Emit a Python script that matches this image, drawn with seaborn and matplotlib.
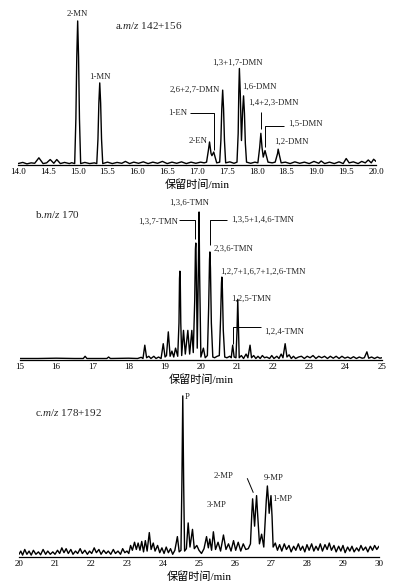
import numpy as np
import pandas as pd
import matplotlib
matplotlib.use("Agg")
import matplotlib.pyplot as plt
from matplotlib.ticker import MultipleLocator, FormatStrFormatter
import seaborn as sns

# %% data (retention time in min, relative signal)
a_time = [14.00, 14.08, 14.15, 14.22, 14.28, 14.35, 14.42, 14.48, 14.54, 14.60,
          14.65, 14.71, 14.78, 14.86, 14.90, 14.95, 14.97, 14.985, 15.00, 15.015,
          15.03, 15.05, 15.12, 15.20, 15.28, 15.32, 15.34, 15.355, 15.37, 15.385,
          15.40, 15.42, 15.50, 15.58, 15.66, 15.74, 15.80, 15.87, 15.94, 16.02,
          16.10, 16.18, 16.26, 16.34, 16.42, 16.50, 16.58, 16.66, 16.74, 16.82,
          16.90, 16.98, 17.06, 17.12, 17.16, 17.19, 17.21, 17.235, 17.25, 17.28,
          17.33, 17.38, 17.40, 17.415, 17.43, 17.445, 17.46, 17.48, 17.55, 17.62,
          17.67, 17.69, 17.70, 17.71, 17.725, 17.745, 17.765, 17.78, 17.795, 17.81,
          17.83, 17.90, 17.97, 18.02, 18.05, 18.07, 18.09, 18.11, 18.14, 18.19,
          18.26, 18.31, 18.35, 18.36, 18.38, 18.41, 18.48, 18.56, 18.64, 18.72,
          18.80, 18.88, 18.96, 19.04, 19.08, 19.14, 19.22, 19.30, 19.38, 19.45,
          19.50, 19.55, 19.62, 19.70, 19.76, 19.82, 19.87, 19.92, 19.96, 20.00]
a_signal = [1.0, 1.8, 0.8, 1.5, 1.2, 5.0, 1.0, 1.5, 3.8, 1.2,
            3.8, 1.0, 1.8, 1.0, 1.6, 1.0, 32, 75, 100, 75,
            32, 1.0, 1.8, 1.0, 1.5, 1.0, 18, 43, 57, 43,
            18, 1.0, 2.0, 1.0, 1.8, 1.2, 2.5, 1.0, 2.0, 1.2,
            2.2, 1.0, 2.0, 1.2, 2.5, 1.0, 2.0, 1.2, 2.2, 1.0,
            2.0, 1.2, 2.0, 1.5, 2.0, 10, 16, 8.0, 6.5, 9.0,
            1.5, 2.0, 17, 39, 52, 39, 17, 1.5, 2.2, 1.2,
            2.0, 22, 50, 67, 50, 17, 38, 48, 36, 15,
            2.0, 1.2, 2.0, 1.5, 12, 22, 12, 5.5, 10, 2.0,
            1.5, 2.0, 8.0, 11, 7.0, 1.5, 2.0, 1.0, 2.2, 1.2,
            2.0, 1.0, 2.5, 1.2, 2.8, 1.0, 2.0, 1.0, 2.2, 1.0,
            4.5, 1.5, 2.2, 1.0, 2.5, 1.5, 3.5, 1.5, 4.0, 2.5]

b_time = [15.00, 15.50, 16.00, 16.50, 16.75, 16.80, 16.85, 17.40, 17.45, 17.50,
          18.00, 18.25, 18.35, 18.40, 18.45, 18.50, 18.56, 18.62, 18.70, 18.76,
          18.83, 18.90, 18.96, 19.01, 19.05, 19.10, 19.15, 19.20, 19.25, 19.30,
          19.36, 19.395, 19.41, 19.42, 19.43, 19.445, 19.47, 19.52, 19.57, 19.64,
          19.69, 19.75, 19.79, 19.83, 19.85, 19.86, 19.875, 19.90, 19.93, 19.95,
          19.965, 20.00, 20.07, 20.12, 20.18, 20.215, 20.24, 20.25, 20.265, 20.29,
          20.33, 20.38, 20.45, 20.51, 20.545, 20.57, 20.58, 20.595, 20.62, 20.66,
          20.72, 20.80, 20.84, 20.88, 20.92, 20.97, 21.00, 21.02, 21.04, 21.06,
          21.12, 21.18, 21.25, 21.30, 21.36, 21.40, 21.46, 21.52, 21.58, 21.64,
          21.70, 21.76, 21.82, 21.90, 21.96, 22.02, 22.10, 22.16, 22.22, 22.27,
          22.33, 22.38, 22.44, 22.50, 22.56, 22.62, 22.70, 22.78, 22.86, 22.94,
          23.02, 23.10, 23.18, 23.26, 23.34, 23.42, 23.50, 23.58, 23.66, 23.74,
          23.82, 23.90, 23.98, 24.06, 24.14, 24.22, 24.30, 24.38, 24.46, 24.52,
          24.59, 24.64, 24.72, 24.80, 24.88, 24.95, 25.00]
b_signal = [1.0, 1.0, 1.2, 1.0, 1.0, 2.5, 1.0, 1.0, 2.0, 1.0,
            1.2, 1.0, 1.8, 1.0, 10, 1.5, 2.5, 1.0, 2.5, 1.0,
            2.0, 1.0, 11, 2.0, 3.0, 19, 2.5, 6.0, 2.0, 8.0,
            2.5, 25, 55, 60, 55, 25, 3.0, 20, 4.0, 20,
            4.0, 20, 5.0, 40, 75, 79, 60, 8.0, 60, 100,
            60, 2.0, 8.0, 1.5, 3.0, 35, 68, 73, 62, 25,
            2.0, 1.5, 2.5, 3.0, 28, 52, 56, 48, 20, 2.0,
            1.5, 2.5, 1.5, 10, 2.0, 1.5, 20, 41, 20, 1.5,
            3.0, 1.0, 4.0, 1.5, 10, 1.5, 3.0, 1.0, 2.5, 1.0,
            3.0, 1.5, 2.0, 1.0, 3.0, 1.0, 2.5, 1.0, 4.0, 1.5,
            11, 2.0, 3.5, 1.0, 2.5, 1.0, 2.0, 2.5, 1.0, 2.5,
            1.5, 3.0, 1.0, 2.5, 1.5, 2.5, 1.0, 2.5, 1.2, 2.5,
            1.0, 2.5, 1.2, 2.0, 1.0, 2.2, 1.0, 2.0, 1.2, 1.5,
            5.5, 1.2, 2.0, 1.0, 2.0, 1.2, 1.5]

c_time = [20.00, 20.05, 20.10, 20.16, 20.22, 20.28, 20.34, 20.40, 20.47, 20.54,
          20.60, 20.67, 20.74, 20.80, 20.87, 20.94, 21.00, 21.07, 21.13, 21.19,
          21.25, 21.31, 21.37, 21.44, 21.50, 21.57, 21.63, 21.70, 21.76, 21.83,
          21.90, 21.96, 22.02, 22.09, 22.15, 22.22, 22.28, 22.35, 22.42, 22.48,
          22.55, 22.62, 22.68, 22.75, 22.82, 22.88, 22.94, 23.00, 23.05, 23.10,
          23.15, 23.21, 23.26, 23.31, 23.36, 23.41, 23.46, 23.51, 23.56, 23.62,
          23.67, 23.73, 23.78, 23.85, 23.91, 23.97, 24.03, 24.09, 24.15, 24.21,
          24.27, 24.33, 24.40, 24.45, 24.50, 24.525, 24.55, 24.575, 24.60, 24.65,
          24.70, 24.75, 24.82, 24.87, 24.94, 25.00, 25.07, 25.14, 25.21, 25.26,
          25.30, 25.35, 25.40, 25.46, 25.53, 25.60, 25.68, 25.75, 25.82, 25.89,
          25.96, 26.02, 26.09, 26.16, 26.23, 26.30, 26.37, 26.43, 26.47, 26.49,
          26.51, 26.545, 26.575, 26.60, 26.625, 26.68, 26.74, 26.80, 26.87, 26.90,
          26.93, 26.95, 26.98, 27.00, 27.03, 27.06, 27.12, 27.18, 27.24, 27.30,
          27.37, 27.43, 27.50, 27.56, 27.63, 27.69, 27.76, 27.82, 27.88, 27.94,
          28.00, 28.06, 28.13, 28.19, 28.25, 28.31, 28.37, 28.43, 28.50, 28.56,
          28.62, 28.68, 28.75, 28.81, 28.88, 28.94, 29.00, 29.06, 29.13, 29.19,
          29.25, 29.31, 29.38, 29.44, 29.50, 29.56, 29.63, 29.69, 29.76, 29.82,
          29.88, 29.94, 30.00]
c_signal = [1.5, 3.5, 1.0, 4.5, 1.5, 3.5, 1.0, 4.0, 1.5, 3.0,
            1.2, 4.5, 1.5, 3.5, 1.5, 3.0, 1.5, 4.0, 2.0, 5.5,
            2.5, 5.0, 2.0, 4.5, 1.5, 3.5, 2.0, 5.0, 2.0, 4.0,
            1.5, 3.5, 2.0, 5.5, 2.5, 4.5, 1.5, 4.0, 2.0, 3.5,
            1.5, 4.5, 2.0, 3.5, 1.5, 5.0, 2.5, 3.5, 2.0, 7.0,
            4.0, 9.0, 4.5, 8.5, 4.0, 9.5, 3.0, 10, 3.5, 15,
            4.5, 8.5, 3.5, 7.0, 2.5, 5.5, 2.0, 6.0, 2.5, 5.0,
            1.5, 4.0, 12.5, 3.0, 4.0, 45, 100, 45, 3.5, 5.0,
            21, 6.0, 17, 5.0, 7.0, 4.0, 2.0, 5.0, 12.5, 5.5,
            11, 4.0, 15.5, 4.5, 9.0, 3.5, 13.5, 4.5, 8.0, 3.5,
            10, 4.0, 9.0, 3.5, 8.0, 4.5, 5.0, 8.0, 28, 36,
            30, 19, 30, 38, 28, 8.0, 14, 6.0, 35, 44,
            35, 27, 34, 38, 25, 6.0, 8.5, 4.0, 7.5, 3.5,
            8.0, 4.5, 7.0, 3.0, 6.5, 4.0, 8.0, 4.0, 6.5, 3.0,
            7.5, 4.0, 8.0, 3.5, 6.5, 4.0, 8.0, 3.5, 7.5, 4.5,
            8.5, 4.0, 7.0, 3.0, 6.5, 3.5, 7.0, 2.5, 6.0, 3.5,
            6.5, 3.0, 5.5, 3.5, 7.0, 4.0, 6.0, 3.0, 6.5, 4.0,
            7.0, 4.5, 6.5]

# %%
sns.set_theme(style="white")
plt.rcParams["font.family"] = ["Liberation Serif", "Noto Sans CJK SC"]
plt.rcParams["mathtext.fontset"] = "custom"
plt.rcParams["mathtext.rm"] = "Liberation Serif"
plt.rcParams["mathtext.it"] = "Liberation Serif:italic"

fig = plt.figure(figsize=(3.93, 5.86), dpi=100)
ax_a = fig.add_axes([0.0458, 0.7184, 0.911, 0.2645])
ax_b = fig.add_axes([0.0509, 0.3857, 0.9204, 0.273])
ax_c = fig.add_axes([0.0483, 0.050, 0.916, 0.2845])

def style_axis(ax, xmin, xmax, ymax, major, minor, fmt):
    ax.set_xlim(xmin, xmax)
    ax.set_ylim(0, ymax)
    sns.despine(ax=ax, left=True)
    ax.set_yticks([])
    ax.set_ylabel("")
    ax.patch.set_alpha(0)
    ax.xaxis.set_major_locator(MultipleLocator(major))
    ax.xaxis.set_minor_locator(MultipleLocator(minor))
    ax.xaxis.set_major_formatter(FormatStrFormatter(fmt))
    ax.tick_params(axis="x", which="major", direction="in", length=3, width=0.8,
                   labelsize=6.5, pad=2.5, color="black", labelcolor="black")
    ax.tick_params(axis="x", which="minor", direction="in", length=2.2, width=0.8,
                   color="black")
    ax.spines["bottom"].set_color("black")
    ax.spines["bottom"].set_linewidth(0.9)
    ax.set_xlabel("保留时间/min", fontsize=8, labelpad=2, color="black")

def leader(ax, xs, ys):
    ax.plot(xs, ys, color="black", lw=0.7, solid_capstyle="butt")

fs = 6.3

# %% a. m/z 142+156
sns.lineplot(x=a_time, y=a_signal, ax=ax_a, color="black", linewidth=1.0, sort=False)
style_axis(ax_a, 14, 20, 107.6, 0.5, 0.1, "%.1f")
ax_a.text(15.63, 97, r"a.$\mathit{m/z}$ 142+156", fontsize=8, va="center")
ax_a.text(15.0, 105, "2-MN", fontsize=fs, ha="center", va="center")
ax_a.text(15.37, 61, "1-MN", fontsize=fs, ha="center", va="center")
ax_a.text(17.39, 52, "2,6+2,7-DMN", fontsize=fs, ha="right", va="center")
ax_a.text(16.84, 36, "1-EN", fontsize=fs, ha="right", va="center")
leader(ax_a, [16.88, 17.29, 17.29], [36, 36, 10.5])
ax_a.text(17.18, 17, "2-EN", fontsize=fs, ha="right", va="center")
ax_a.text(17.67, 71, "1,3+1,7-DMN", fontsize=fs, ha="center", va="center")
ax_a.text(17.75, 54, "1,6-DMN", fontsize=fs, ha="left", va="center")
ax_a.text(17.85, 43, "1,4+2,3-DMN", fontsize=fs, ha="left", va="center")
leader(ax_a, [18.07, 18.07], [37, 25])
ax_a.text(18.53, 28.5, "1,5-DMN", fontsize=fs, ha="left", va="center")
leader(ax_a, [18.45, 18.14, 18.14], [27, 27, 12.5])
ax_a.text(18.3, 16, "1,2-DMN", fontsize=fs, ha="left", va="center")

# %% b. m/z 170
sns.lineplot(x=b_time, y=b_signal, ax=ax_b, color="black", linewidth=1.0, sort=False)
style_axis(ax_b, 15, 25, 108.1, 1, 0.2, "%d")
ax_b.text(15.41, 98.6, r"b.$\mathit{m/z}$ 170", fontsize=8, va="center")
ax_b.text(19.67, 105.9, "1,3,6-TMN", fontsize=fs, ha="center", va="center")
ax_b.text(19.36, 93.4, "1,3,7-TMN", fontsize=fs, ha="right", va="center")
leader(ax_b, [19.40, 19.84, 19.84], [94.6, 94.6, 82])
ax_b.text(20.83, 94.6, "1,3,5+1,4,6-TMN", fontsize=fs, ha="left", va="center")
leader(ax_b, [20.72, 20.25, 20.25], [94.6, 94.6, 77.7])
ax_b.text(20.34, 75, "2,3,6-TMN", fontsize=fs, ha="left", va="center")
ax_b.text(20.53, 59.3, "1,2,7+1,6,7+1,2,6-TMN", fontsize=fs, ha="left", va="center")
ax_b.text(20.85, 41, "1,2,5-TMN", fontsize=fs, ha="left", va="center")
ax_b.text(21.75, 18.7, "1,2,4-TMN", fontsize=fs, ha="left", va="center")
leader(ax_b, [20.88, 20.88, 21.65], [10.5, 22.5, 22.5])

# %% c. m/z 178+192
sns.lineplot(x=c_time, y=c_signal, ax=ax_c, color="black", linewidth=1.0, sort=False)
style_axis(ax_c, 20, 30, 103.7, 1, 0.2, "%d")
ax_c.text(20.44, 89.6, r"c.$\mathit{m/z}$ 178+192", fontsize=8, va="center")
ax_c.text(24.61, 99.2, "P", fontsize=fs, ha="left", va="center")
ax_c.text(25.40, 50.2, "2-MP", fontsize=fs, ha="left", va="center")
leader(ax_c, [26.34, 26.51], [48.8, 39.8])
ax_c.text(25.21, 32.2, "3-MP", fontsize=fs, ha="left", va="center")
ax_c.text(26.79, 48.8, "9-MP", fontsize=fs, ha="left", va="center")
ax_c.text(27.02, 35.9, "1-MP", fontsize=fs, ha="left", va="center")

fig.savefig("out.png", dpi=100)
